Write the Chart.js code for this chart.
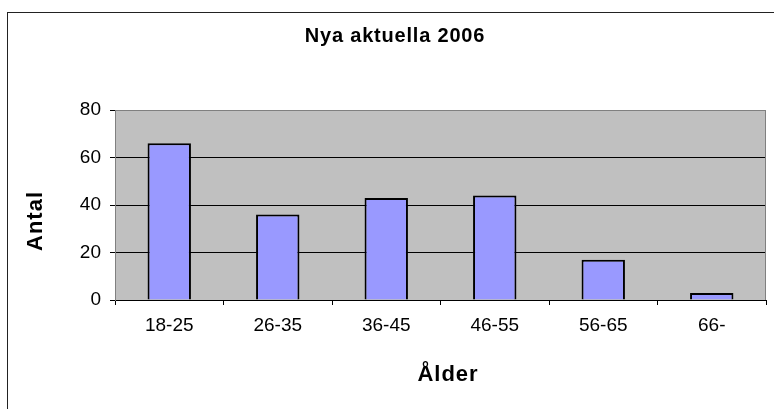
<!DOCTYPE html>
<html>
<head>
<meta charset="utf-8">
<script src="https://cdn.jsdelivr.net/npm/chart.js@4"></script>
<style>
html,body{margin:0;padding:0;background:#fff;overflow:hidden;}
#wrap{position:relative;width:774px;height:409px;}
#frame{position:absolute;left:7px;top:12px;width:900px;height:600px;border:1px solid #222;box-sizing:border-box;}
canvas{position:absolute;left:0;top:0;}
</style>
</head>
<body>
<div id="wrap">
<div id="frame"></div>
<canvas id="c" width="774" height="409"></canvas>
</div>
<script>
const categories = ['18-25', '26-35', '36-45', '46-55', '56-65', '66-'];
const values = [66, 36, 43, 44, 17, 3];
const yTicks = [0, 20, 40, 60, 80];
const chartTitle = 'Nya aktuella 2006';
const xTitle = 'Ålder';
const yTitle = 'Antal';

const FONT = "'Liberation Sans', Arial, sans-serif";

const bgPlugin = {
  id: 'plotbg',
  beforeDraw(chart) {
    const {ctx, chartArea: a} = chart;
    ctx.save();
    ctx.fillStyle = '#C0C0C0';
    ctx.fillRect(a.left, a.top, a.right - a.left, a.bottom - a.top);
    ctx.restore();
  },
  beforeDatasetsDraw(chart) {
    const {ctx, chartArea: a} = chart;
    ctx.save();
    ctx.strokeStyle = '#808080';
    ctx.lineWidth = 1;
    ctx.beginPath();
    ctx.moveTo(Math.round(a.right) - 0.5, a.top);
    ctx.lineTo(Math.round(a.right) - 0.5, a.bottom);
    ctx.stroke();
    ctx.restore();
  },
  afterDraw(chart) {
    const {ctx} = chart;
    ctx.save();
    ctx.fillStyle = '#000';
    ctx.textAlign = 'center';
    ctx.textBaseline = 'alphabetic';
    ctx.font = 'bold 20px ' + FONT;
    if ('letterSpacing' in ctx) ctx.letterSpacing = '0.8px';
    ctx.fillText(chartTitle, 395, 42);
    if ('letterSpacing' in ctx) ctx.letterSpacing = '1px';
    ctx.font = 'bold 22px ' + FONT;
    ctx.textBaseline = 'middle';
    ctx.fillText(xTitle, 448, 375);
    ctx.translate(36, 221);
    ctx.rotate(-Math.PI / 2);
    ctx.fillText(yTitle, 0, 0);
    ctx.restore();
  }
};

new Chart(document.getElementById('c'), {
  type: 'bar',
  data: {
    labels: categories,
    datasets: [{
      data: values,
      backgroundColor: '#9999FF',
      borderColor: '#000000',
      borderWidth: 2,
      barPercentage: 0.4,
      categoryPercentage: 1.0
    }]
  },
  options: {
    responsive: false,
    animation: false,
    devicePixelRatio: 1,
    layout: {padding: {left: 0, right: 8, top: 110, bottom: 0}},
    plugins: {legend: {display: false}, tooltip: {enabled: false}, title: {display: false}},
    scales: {
      x: {
        afterFit(s) { s.height = 109; },
        grid: {offset: true, drawOnChartArea: false, drawTicks: true, tickLength: 5, color: '#000', tickColor: '#000'},
        border: {display: true, color: '#000', width: 1},
        ticks: {color: '#000', font: {family: FONT, size: 19}, padding: 9, maxRotation: 0, autoSkip: false},
        title: {display: false}
      },
      y: {
        min: 0, max: 80,
        afterFit(s) { s.width = 115; },
        afterBuildTicks(s) { s.ticks = yTicks.map(v => ({value: v})); },
        grid: {drawTicks: true, tickLength: 5,
          color: c => (c.tick && c.tick.value === 80) ? '#808080' : '#000',
          tickColor: '#000'},
        border: {display: true, color: '#808080', width: 1},
        ticks: {color: '#000', font: {family: FONT, size: 19}, padding: 9},
        title: {display: false}
      }
    }
  },
  plugins: [bgPlugin]
});
</script>
</body>
</html>
